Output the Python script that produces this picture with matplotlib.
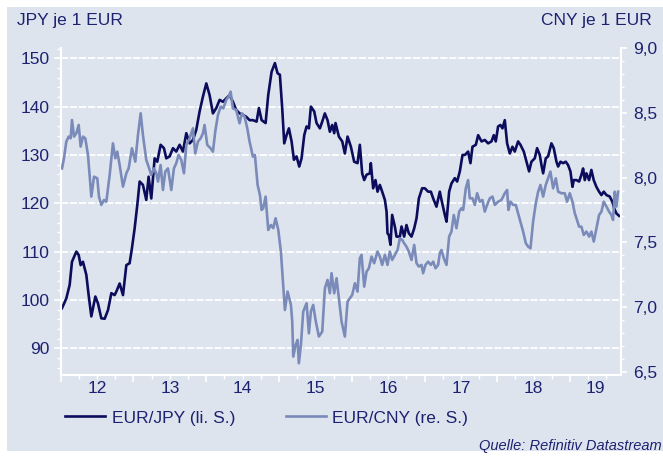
import matplotlib
matplotlib.use("Agg")
import matplotlib.pyplot as plt
import matplotlib.transforms as mtransforms
from matplotlib.patches import Rectangle
from matplotlib.ticker import MultipleLocator, FuncFormatter, NullFormatter

plt.rcParams['font.family'] = ['Liberation Sans', 'DejaVu Sans']

# EUR/JPY (left scale), time in decimal years
jpy_t = [
    2012.018, 2012.077, 2012.123, 2012.155, 2012.215, 2012.247, 2012.274, 2012.306, 2012.352, 2012.384,
    2012.421, 2012.476, 2012.512, 2012.558, 2012.604, 2012.650, 2012.696, 2012.741, 2012.764, 2012.810,
    2012.856, 2012.902, 2012.947, 2012.979, 2013.016, 2013.053, 2013.085, 2013.130, 2013.176, 2013.208,
    2013.245, 2013.291, 2013.327, 2013.373, 2013.419, 2013.451, 2013.497, 2013.543, 2013.588, 2013.634,
    2013.680, 2013.726, 2013.772, 2013.817, 2013.863, 2013.909, 2013.955, 2014.001, 2014.046, 2014.092,
    2014.138, 2014.184, 2014.229, 2014.275, 2014.321, 2014.367, 2014.412, 2014.458, 2014.504, 2014.550,
    2014.596, 2014.641,
    2014.692, 2014.724, 2014.761, 2014.816, 2014.852, 2014.898, 2014.944, 2014.980, 2015.012, 2015.044,
    2015.072, 2015.104, 2015.136, 2015.173, 2015.205, 2015.241, 2015.278, 2015.310, 2015.347, 2015.379,
    2015.411, 2015.438, 2015.484, 2015.516, 2015.562, 2015.594, 2015.630, 2015.667, 2015.699, 2015.731,
    2015.759, 2015.777, 2015.823, 2015.869, 2015.905, 2015.942, 2015.988, 2016.033, 2016.079, 2016.111,
    2016.143, 2016.171, 2016.203, 2016.249, 2016.262, 2016.294, 2016.326, 2016.354, 2016.386, 2016.418,
    2016.455, 2016.478, 2016.491, 2016.510, 2016.532, 2016.555, 2016.592, 2016.615, 2016.661, 2016.684,
    2016.720, 2016.752, 2016.784, 2016.821, 2016.858, 2016.890, 2016.922, 2016.967, 2017.004, 2017.050,
    2017.087, 2017.119, 2017.164, 2017.210,
    2017.233, 2017.279, 2017.302, 2017.338, 2017.370, 2017.416, 2017.448, 2017.485, 2017.522, 2017.554,
    2017.599, 2017.631, 2017.659, 2017.705, 2017.737, 2017.783, 2017.828, 2017.874, 2017.920, 2017.952,
    2017.979, 2018.011, 2018.043, 2018.071, 2018.103, 2018.135, 2018.172, 2018.208, 2018.240, 2018.286,
    2018.318, 2018.364, 2018.401, 2018.437, 2018.469, 2018.515, 2018.547, 2018.584, 2018.607, 2018.630,
    2018.666, 2018.698, 2018.744, 2018.776, 2018.813, 2018.836, 2018.868, 2018.904, 2018.941, 2018.973,
    2019.005, 2019.033, 2019.051, 2019.087, 2019.124, 2019.156, 2019.179, 2019.202, 2019.225, 2019.261,
    2019.293, 2019.325, 2019.362, 2019.399, 2019.431, 2019.463, 2019.500, 2019.545, 2019.582, 2019.605,
    2019.637, 2019.674,
]
eur_jpy = [
    98.3, 100.3, 103.1, 107.9, 110.0, 109.3, 107.2, 107.9, 105.2, 101.0,
    96.6, 100.7, 99.3, 96.2, 96.1, 97.9, 101.4, 101.0, 101.7, 103.4,
    101.0, 107.2, 107.6, 110.7, 114.8, 119.7, 124.5, 123.8, 120.7, 125.5,
    121.0, 129.3, 128.6, 132.1, 131.4, 129.3, 129.7, 131.4, 130.7, 132.1,
    130.7, 134.5, 132.4, 133.1, 135.2, 139.0, 142.1, 144.8, 142.4, 138.6,
    139.7, 141.4, 141.0, 141.7, 142.4, 141.0, 139.3, 138.6, 138.3, 137.9,
    137.2, 137.2,
    136.9, 139.7, 137.2, 136.6, 142.4, 147.2, 149.0, 146.9, 146.6, 139.7,
    132.4, 134.1, 135.5, 132.8, 129.0, 129.7, 127.6, 129.3, 134.1, 135.9,
    135.5, 140.0, 139.0, 136.6, 135.5, 136.9, 138.6, 137.2, 134.8, 136.2,
    134.5, 136.6, 133.8, 132.8, 130.3, 133.8, 131.7, 128.6, 128.3, 132.1,
    126.2, 124.8, 125.9, 126.2, 128.3, 123.1, 124.8, 122.4, 123.8, 122.4,
    120.7, 118.3, 113.8, 113.4, 111.4, 117.6, 115.2, 113.1, 113.1, 115.2,
    113.1, 115.5, 113.8, 113.1, 114.8, 116.9, 121.0, 123.1, 123.1, 122.4,
    122.4, 121.0, 119.3, 122.4,
    120.7, 117.6, 116.2, 122.4, 124.1, 125.2, 124.5, 126.6, 130.0, 130.0,
    130.7, 128.3, 131.7, 132.1, 134.1, 132.8, 133.1, 132.4, 132.8, 134.1,
    132.8, 135.9, 136.2, 135.5, 137.2, 132.4, 130.3, 131.7, 130.7, 132.8,
    132.1, 130.7, 128.6, 126.6, 128.6, 129.3, 131.4, 130.0, 127.9, 126.2,
    129.3, 129.7, 132.4, 131.4, 128.6, 127.6, 128.6, 128.3, 128.6, 127.9,
    126.6, 123.4, 124.8, 124.8, 124.5, 125.9, 127.2, 124.8, 126.2, 124.8,
    126.9, 124.8, 123.4, 122.4, 121.7, 122.4, 121.7, 121.4, 120.3, 119.0,
    117.9, 117.4,
]

# EUR/CNY (right scale)
cny_t = [
    2012.018, 2012.045, 2012.077, 2012.109, 2012.137, 2012.155, 2012.183, 2012.215, 2012.247, 2012.274,
    2012.306, 2012.338, 2012.375, 2012.421, 2012.458, 2012.503, 2012.526, 2012.558, 2012.595, 2012.627,
    2012.673, 2012.718, 2012.751, 2012.778, 2012.810, 2012.856, 2012.902, 2012.934, 2012.979, 2013.025,
    2013.062, 2013.099, 2013.130, 2013.176, 2013.208, 2013.245, 2013.282, 2013.314, 2013.337, 2013.373,
    2013.405, 2013.437, 2013.474, 2013.520, 2013.556, 2013.588, 2013.620, 2013.657, 2013.694, 2013.726,
    2013.772, 2013.817, 2013.849, 2013.886, 2013.923, 2013.955, 2013.977, 2014.014, 2014.060, 2014.092,
    2014.124, 2014.161, 2014.198, 2014.234, 2014.275, 2014.307, 2014.335, 2014.367, 2014.412, 2014.458,
    2014.490, 2014.527, 2014.564, 2014.596, 2014.641,
    2014.669, 2014.706, 2014.738, 2014.761, 2014.783, 2014.816, 2014.852, 2014.889, 2014.921, 2014.953,
    2014.990, 2015.026, 2015.058, 2015.081, 2015.118, 2015.164, 2015.182, 2015.196, 2015.228, 2015.255,
    2015.273, 2015.301, 2015.333, 2015.379, 2015.411, 2015.438, 2015.470, 2015.502, 2015.548, 2015.594,
    2015.631, 2015.667, 2015.699, 2015.722, 2015.759, 2015.791, 2015.823, 2015.860, 2015.905, 2015.942,
    2015.974, 2016.006, 2016.043, 2016.079, 2016.111, 2016.134, 2016.171, 2016.203, 2016.235, 2016.272,
    2016.308, 2016.354, 2016.386, 2016.418, 2016.455, 2016.491, 2016.523, 2016.555, 2016.592, 2016.629,
    2016.661, 2016.693, 2016.720, 2016.752, 2016.784, 2016.821, 2016.858, 2016.890, 2016.922, 2016.958,
    2016.981, 2017.013, 2017.050, 2017.087, 2017.119, 2017.151, 2017.187, 2017.210,
    2017.233, 2017.265, 2017.302, 2017.338, 2017.370, 2017.402, 2017.439, 2017.476, 2017.508, 2017.531,
    2017.567, 2017.599, 2017.622, 2017.659, 2017.691, 2017.723, 2017.760, 2017.796, 2017.828, 2017.860,
    2017.897, 2017.934, 2017.966, 2018.011, 2018.057, 2018.103, 2018.135, 2018.153, 2018.181, 2018.218,
    2018.254, 2018.286, 2018.318, 2018.355, 2018.392, 2018.424, 2018.456, 2018.492, 2018.529, 2018.561,
    2018.593, 2018.630, 2018.666, 2018.698, 2018.730, 2018.767, 2018.804, 2018.836, 2018.882, 2018.927,
    2018.959, 2018.996, 2019.033, 2019.065, 2019.088, 2019.124, 2019.156, 2019.188, 2019.225, 2019.262,
    2019.293, 2019.326, 2019.362, 2019.399, 2019.431, 2019.463, 2019.500, 2019.536, 2019.568, 2019.591,
    2019.614, 2019.637, 2019.660,
]
eur_cny = [
    8.071, 8.149, 8.277, 8.316, 8.303, 8.444, 8.316, 8.342, 8.406, 8.239,
    8.316, 8.303, 8.174, 7.853, 8.007, 7.994, 7.853, 7.789, 7.827, 7.814,
    8.020, 8.264, 8.149, 8.200, 8.097, 7.930, 8.033, 8.071, 8.226, 8.123,
    8.329, 8.496, 8.329, 8.136, 8.084, 8.020, 8.071, 8.033, 7.969, 8.097,
    7.904, 8.046, 8.071, 7.904, 8.071, 8.110, 8.174, 8.136, 8.033, 8.252,
    8.303, 8.380, 8.187, 8.277, 8.303, 8.342, 8.406, 8.252, 8.226, 8.200,
    8.355, 8.483, 8.547, 8.534, 8.599, 8.624, 8.663, 8.534, 8.522, 8.419,
    8.496, 8.470, 8.380, 8.277, 8.162,
    8.174, 7.943, 7.866, 7.750, 7.763, 7.853, 7.596, 7.634, 7.609, 7.686,
    7.596, 7.429, 7.171, 6.978, 7.120, 7.017, 6.888, 6.618, 6.708, 6.747,
    6.567, 6.708, 6.966, 7.030, 6.798, 6.966, 7.017, 6.901, 6.773, 6.811,
    7.146, 7.210, 7.107, 7.262, 7.107, 7.223, 7.068, 6.888, 6.773, 7.043,
    7.068, 7.094, 7.184, 7.120, 7.377, 7.403, 7.158, 7.274, 7.300, 7.390,
    7.339, 7.429, 7.390, 7.326, 7.403, 7.326, 7.429, 7.364, 7.403, 7.441,
    7.531, 7.519, 7.493, 7.467, 7.429, 7.364, 7.480, 7.339, 7.313, 7.326,
    7.262, 7.326, 7.351, 7.326, 7.351, 7.300, 7.326, 7.416,
    7.441, 7.377, 7.326, 7.544, 7.583, 7.711, 7.609, 7.737, 7.763, 7.750,
    7.917, 7.981, 7.840, 7.840, 7.789, 7.879, 7.814, 7.827, 7.737, 7.789,
    7.840, 7.853, 7.789, 7.814, 7.827, 7.879, 7.904, 7.750, 7.814, 7.789,
    7.789, 7.724, 7.660, 7.583, 7.493, 7.467, 7.454, 7.660, 7.801, 7.891,
    7.943, 7.853, 7.943, 7.994, 8.046, 7.917, 7.994, 7.891, 7.879, 7.879,
    7.814, 7.879, 7.814, 7.724, 7.686, 7.621, 7.621, 7.557, 7.583, 7.544,
    7.583, 7.506, 7.609, 7.711, 7.737, 7.814, 7.776, 7.737, 7.711, 7.673,
    7.891, 7.776, 7.891,
]

years = [2012, 2013, 2014, 2015, 2016, 2017, 2018, 2019]
year_labels = ['12', '13', '14', '15', '16', '17', '18', '19']

NAVY = '#1c2270'
JPY_COL = '#0c0c5c'
CNY_COL = '#7a8bba'
BG = '#dee4ee'
W, H = 663, 457

fig = plt.figure(figsize=(W / 100, H / 100), dpi=100)
fig.patch.set_facecolor('white')
fig.patches.append(Rectangle((7 / W, 1 - 451 / H), 1, (451 - 7) / H,
                             transform=fig.transFigure, facecolor=BG,
                             edgecolor='none', zorder=-10))

left, right, top, bottom = 60.7, 621, 48, 374.5
ax = fig.add_axes([left / W, 1 - bottom / H, (right - left) / W, (bottom - top) / H])
ax.patch.set_visible(False)
ax2 = ax.twinx()

ax.plot(jpy_t, eur_jpy, color=JPY_COL, lw=1.9, solid_joinstyle='round')
ax2.plot(cny_t, eur_cny, color=CNY_COL, lw=1.9, solid_joinstyle='round')

ax.set_xlim(2012.0, 2019.7)
ax.set_ylim(84.57, 152.13)
ax2.set_ylim(6.48, 9.0)

for a in (ax, ax2):
    for s in a.spines.values():
        s.set_visible(False)
ax.spines['left'].set_visible(True)
ax.spines['bottom'].set_visible(True)
ax2.spines['right'].set_visible(True)
for s in (ax.spines['left'], ax.spines['bottom'], ax2.spines['right']):
    s.set_color('white')
    s.set_linewidth(1.5)

ax.yaxis.set_major_locator(MultipleLocator(10))
ax.yaxis.set_minor_locator(MultipleLocator(2))
ax.tick_params(axis='y', which='major', length=5, width=1.2, color='white',
               labelcolor=NAVY, labelsize=12.5, pad=3)
ax.tick_params(axis='y', which='minor', length=3, width=1.0, color='white')
ax.grid(axis='y', which='major', color='white', linestyle=(0, (4, 1)), linewidth=1.3)

ax.xaxis.set_major_locator(MultipleLocator(1))
ax.xaxis.set_minor_locator(MultipleLocator(0.25))
ax.xaxis.set_major_formatter(NullFormatter())
ax.tick_params(axis='x', which='major', length=5, width=1.2, color='white')
ax.tick_params(axis='x', which='minor', length=3, width=1.0, color='white')

trans = mtransforms.blended_transform_factory(ax.transData, ax.transAxes)
x_end = ax.get_xlim()[1]
for yr, lab in zip(years, year_labels):
    cx = (yr + min(yr + 1, x_end)) / 2
    ax.text(cx, -0.043, lab, transform=trans, ha='center', va='center',
            color=NAVY, fontsize=12.5)

ax2.yaxis.set_major_locator(MultipleLocator(0.5))
ax2.yaxis.set_minor_locator(MultipleLocator(0.1))
ax2.yaxis.set_major_formatter(FuncFormatter(lambda v, p: f'{v:.1f}'.replace('.', ',')))
ax2.tick_params(axis='y', which='major', length=4, width=1.2, color='white',
                labelcolor=NAVY, labelsize=12.5, pad=5)
ax2.tick_params(axis='y', which='minor', length=2.5, width=1.0, color='white')

fig.text(17 / W, 1 - 20 / H, 'JPY je 1 EUR', ha='left', va='center', color=NAVY, fontsize=12.5)
fig.text(652 / W, 1 - 20 / H, 'CNY je 1 EUR', ha='right', va='center', color=NAVY, fontsize=12.5)

handles = [ax.lines[0], ax2.lines[0]]
fig.legend(handles, ['EUR/JPY (li. S.)', 'EUR/CNY (re. S.)'], loc='center left',
           bbox_to_anchor=(65 / W, 1 - 418 / H), ncol=2, frameon=False, fontsize=12.5,
           handlelength=2.3, handletextpad=0.4, columnspacing=2.9, labelcolor=NAVY,
           borderpad=0, borderaxespad=0)

fig.text(662 / W, 1 - 446 / H, 'Quelle: Refinitiv Datastream', ha='right', va='center',
         style='italic', color=NAVY, fontsize=10.5)

fig.savefig('out.png', dpi=100, facecolor=fig.get_facecolor())
